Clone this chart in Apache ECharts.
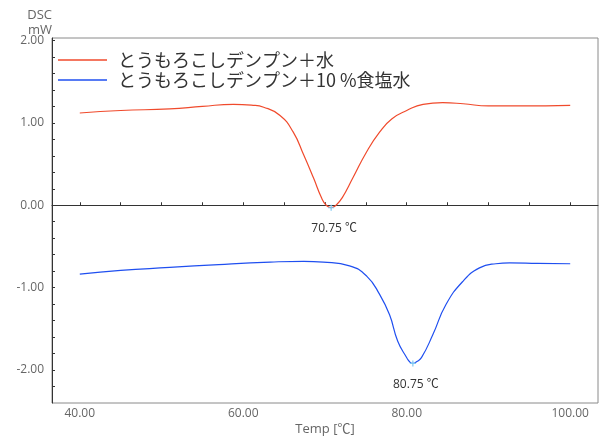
<!DOCTYPE html>
<html>
<head>
<meta charset="utf-8">
<script src="https://cdn.jsdelivr.net/npm/echarts@6/dist/echarts.min.js"></script>
<style>html,body{margin:0;padding:0;background:#fff}#c{width:600px;height:441px}</style>
</head>
<body>
<div id="c"></div>
<script>
var seriesNames = ['とうもろこしデンプン＋水', 'とうもろこしデンプン＋10 %食塩水'];
var waterData = [
  [40,1.12],[45,1.15],[51,1.17],[55,1.2],[58.8,1.225],[61,1.215],[62.5,1.19],
  [64.5,1.09],[66.1,0.89],[67.4,0.61],[68.6,0.33],[69.6,0.085],[70.15,0.0],[70.75,-0.03],
  [71.35,0.0],[72.1,0.09],[73.4,0.33],[75.1,0.65],[76.7,0.89],[78.2,1.05],[80,1.15],
  [82,1.225],[84.4,1.245],[86.9,1.232],[90,1.205],[94,1.205],[100,1.213]
];
var saltData = [
  [40,-0.835],[45,-0.79],[51,-0.755],[57,-0.72],[63.3,-0.69],[67.4,-0.68],[69.8,-0.69],
  [73,-0.735],[75.1,-0.86],[76.7,-1.085],[77.9,-1.33],[78.9,-1.65],[80,-1.85],[80.35,-1.9],[80.75,-1.92],
  [81.2,-1.9],[81.8,-1.85],[83.2,-1.57],[84.8,-1.205],[86.9,-0.92],[88.9,-0.76],[90.9,-0.71],[92.6,-0.70],
  [96,-0.705],[100,-0.71]
];
var peakT = [70.75, 80.75];
var peakV = [-0.03, -1.92];
var xLabelValues = [40, 60, 80, 100];
var xTickValues = [40,45,50,55,60,65,70,75,80,85,90,95,100];
var yLabelValues = [-2, -1, 0, 1, 2];
var yTickValues = [-2.2,-2,-1.8,-1.6,-1.4,-1.2,-1,-0.8,-0.6,-0.4,-0.2,0,0.2,0.4,0.6,0.8,1,1.2,1.4,1.6,1.8,2];
var colors = ['#f04a2c', '#1f4ff0'];

var chart = echarts.init(document.getElementById('c'), null, {renderer: 'canvas'});
var numFont = '"Open Sans", "Noto Sans CJK JP", sans-serif';
var jpFont = '"Noto Sans CJK JP", "Open Sans", sans-serif';

function peakMark(i) {
  return {
    symbol: 'path://M2,0h1v5h-1z M0,2h5v1h-5z',
    symbolSize: 6,
    itemStyle: {color: '#7ec8f2'},
    label: {
      show: true, position: 'bottom', distance: 12, offset: [3, 0],
      color: '#333', fontSize: 12, fontFamily: numFont,
      formatter: peakT[i].toFixed(2) + ' ℃'
    },
    data: [{coord: [peakT[i], peakV[i]]}]
  };
}

chart.setOption({
  backgroundColor: '#fff',
  animation: false,
  grid: {left: 52, right: 2, top: 38, bottom: 35, show: true, borderColor: '#8a8a8a', borderWidth: 1},
  legend: {
    left: 53, top: 45, orient: 'vertical', itemGap: 0,
    itemWidth: 49, itemHeight: 1.5, icon: 'rect',
    textStyle: {fontSize: 18, fontFamily: jpFont, color: '#333', lineHeight: 20, padding: [0,0,0,6]},
    data: seriesNames
  },
  xAxis: {
    type: 'value', min: 36.6, max: 103.4,
    name: 'Temp [℃]', nameLocation: 'middle', nameGap: 20, nameMoveOverlap: false,
    nameTextStyle: {color: '#666', fontSize: 13, fontFamily: numFont},
    axisLine: {show: true, lineStyle: {color: '#333'}},
    axisTick: {show: true, inside: true, length: 3, lineStyle: {color: '#333'}, customValues: xTickValues},
    axisLabel: {color: '#666', fontSize: 12, fontFamily: numFont, margin: 5,
      customValues: xLabelValues, formatter: function(v){return v.toFixed(2);}},
    splitLine: {show: false}
  },
  yAxis: {
    type: 'value', min: -2.4, max: 2.03,
    name: 'DSC\nmW', nameLocation: 'end', nameGap: 0, nameMoveOverlap: false,
    nameTextStyle: {color: '#666', fontSize: 13, fontFamily: numFont, align: 'right', verticalAlign: 'bottom', lineHeight: 15},
    axisLine: {show: true, lineStyle: {color: '#333'}},
    axisTick: {show: true, inside: true, length: 3, lineStyle: {color: '#333'}, customValues: yTickValues},
    axisLabel: {color: '#666', fontSize: 12, fontFamily: numFont, margin: 8,
      customValues: yLabelValues, formatter: function(v){return v.toFixed(2);}},
    splitLine: {show: false}
  },
  series: [
    {name: seriesNames[0], type: 'line', data: waterData, smooth: 0.5,
     showSymbol: false, lineStyle: {color: colors[0], width: 1.2}, itemStyle: {color: colors[0]},
     markPoint: peakMark(0)},
    {name: seriesNames[1], type: 'line', data: saltData, smooth: 0.5,
     showSymbol: false, lineStyle: {color: colors[1], width: 1.2}, itemStyle: {color: colors[1]},
     markPoint: peakMark(1)}
  ]
});
</script>
</body>
</html>
